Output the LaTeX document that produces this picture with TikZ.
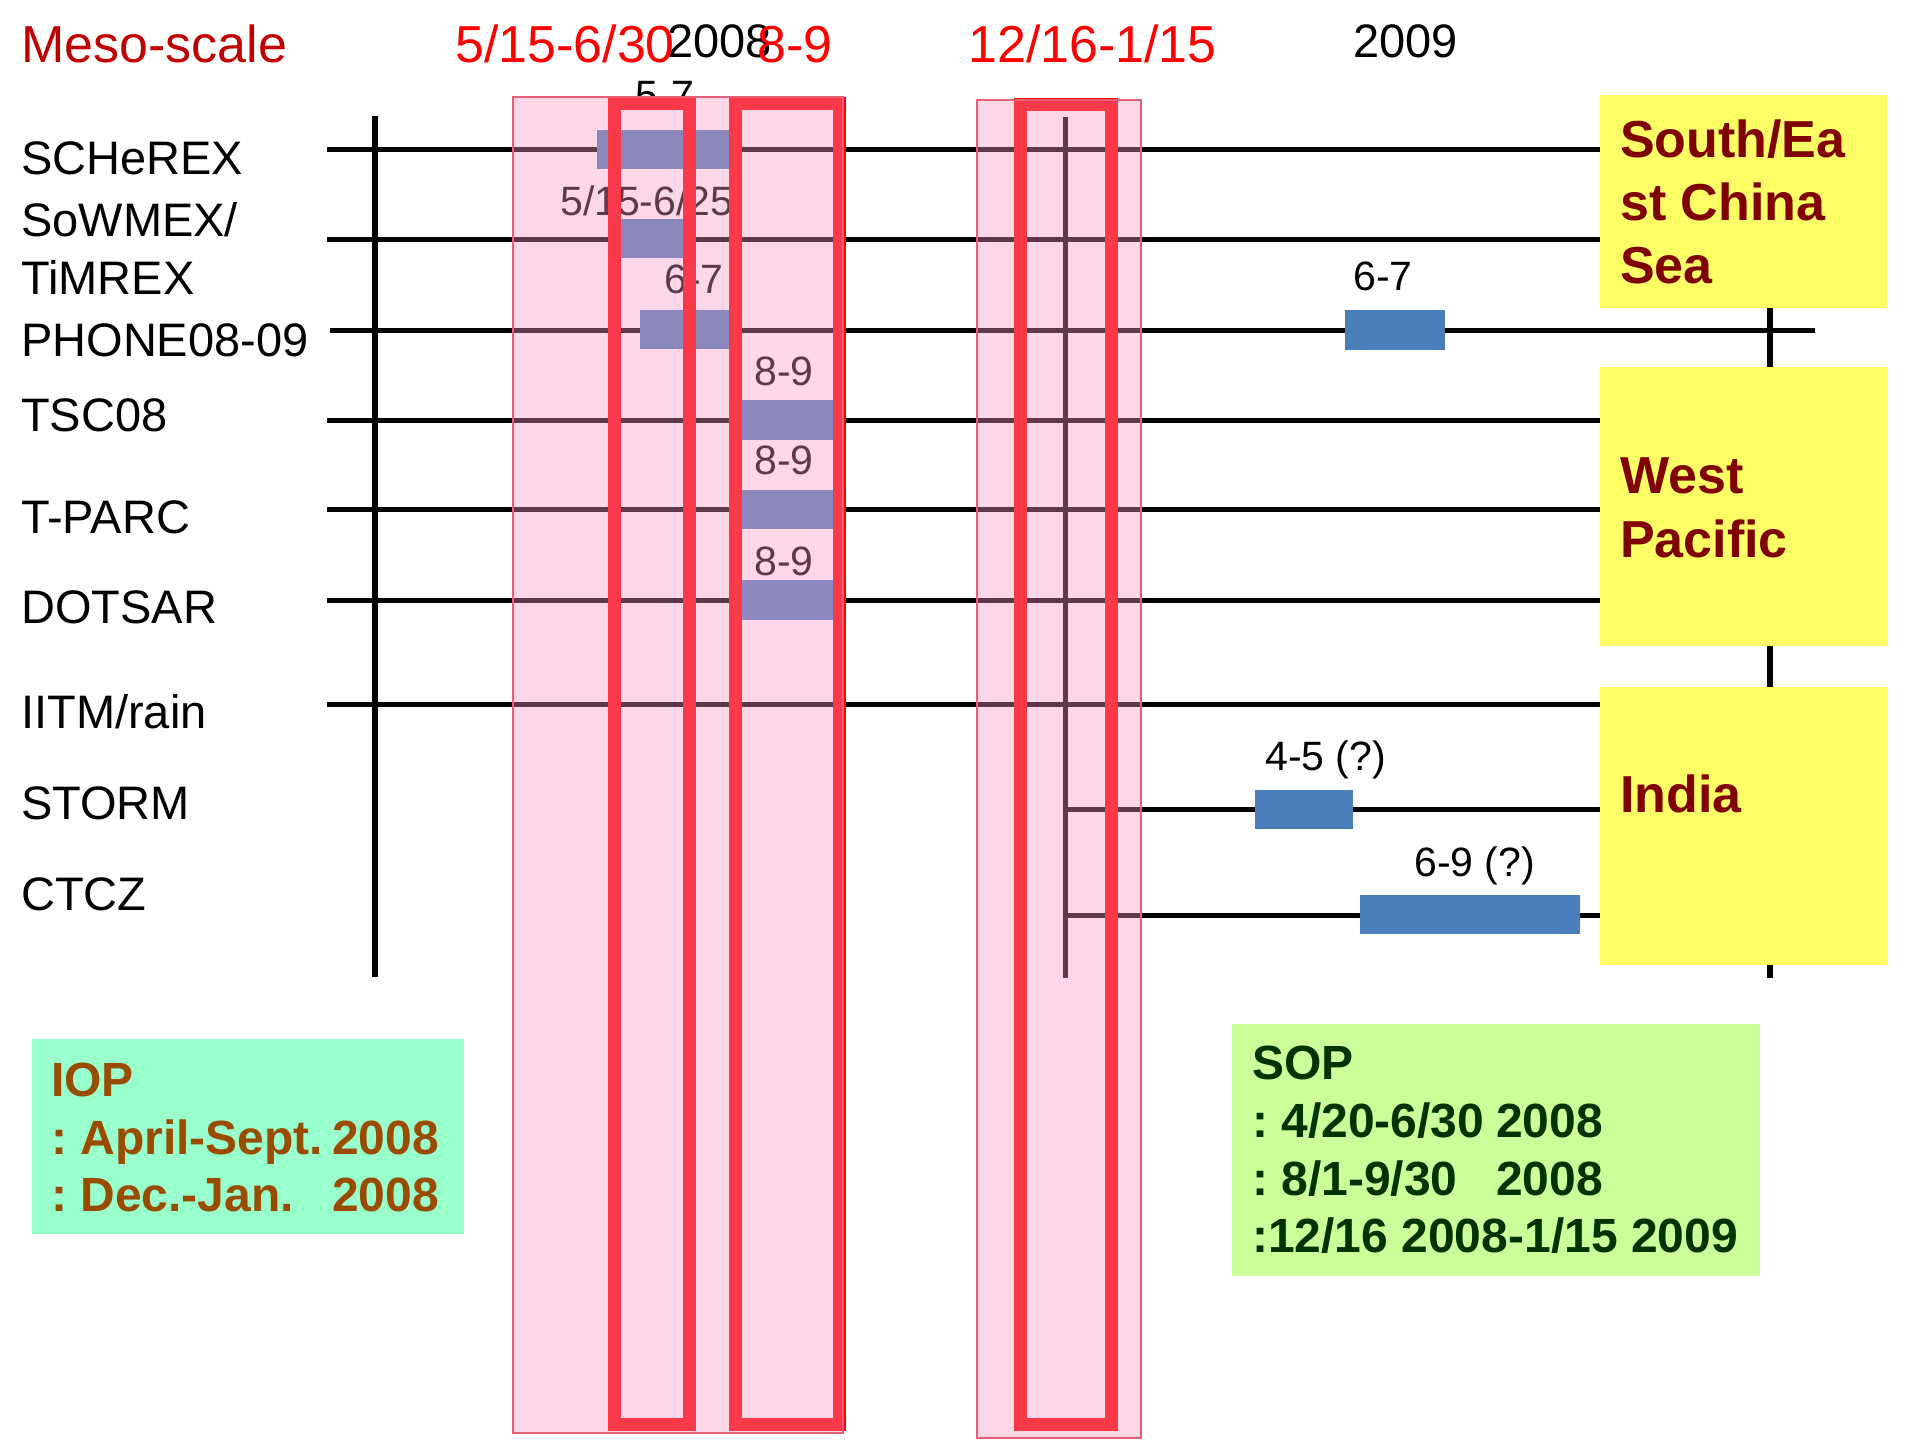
\documentclass[tikz,border=0pt]{standalone}
\usepackage{fontspec}
\setmainfont{Liberation Sans}
\frenchspacing
\definecolor{barblue}{RGB}{74,126,187}
\definecolor{pinkP}{RGB}{247,151,192}
\definecolor{pinkedge}{RGB}{228,96,118}
\definecolor{regyellow}{RGB}{255,255,102}
\definecolor{regred}{RGB}{128,0,0}
\definecolor{mesored}{RGB}{192,0,0}
\definecolor{iopbg}{RGB}{153,255,204}
\definecolor{ioptext}{RGB}{153,76,0}
\definecolor{sopbg}{RGB}{204,255,153}
\definecolor{soptext}{RGB}{0,51,0}
\begin{document}
\begin{tikzpicture}[x=1pt,y=-1pt,
  tl/.style={line width=5pt, black},
  vl/.style={line width=6pt, black},
  bar/.style={fill=barblue, draw=none},
  redframe/.style={draw=red, line width=13pt},
  pinkbox/.style={fill=pinkP, fill opacity=0.385, draw=pinkedge, line width=1.5pt},
  rowlabel/.style={anchor=base west, inner sep=0pt, font=\fontsize{47}{56}\selectfont},
  smalllab/.style={anchor=base west, inner sep=0pt, font=\fontsize{41}{49}\selectfont},
  headlab/.style={anchor=base west, inner sep=0pt, font=\fontsize{52}{62}\selectfont},
  yearlab/.style={anchor=base west, inner sep=0pt, font=\fontsize{47}{56}\selectfont},
  regbox/.style={fill=regyellow, draw=none},
  regtext/.style={anchor=base west, inner sep=0pt, text=regred, font=\fontsize{52}{63}\selectfont\bfseries},
  ioptxt/.style={anchor=base west, inner sep=0pt, text=ioptext, font=\fontsize{48}{58}\selectfont\bfseries},
  soptxt/.style={anchor=base west, inner sep=0pt, text=soptext, font=\fontsize{48}{58}\selectfont\bfseries}
]
\useasboundingbox (0,0) rectangle (1915,1440);

% timeline lines
\coordinate (l1a) at (327,149); \coordinate (l1b) at (1600,149);
\coordinate (l2a) at (327,239); \coordinate (l2b) at (1600,239);
\coordinate (l3a) at (330,330); \coordinate (l3b) at (1815,330);
\coordinate (l4a) at (327,420); \coordinate (l4b) at (1600,420);
\coordinate (l5a) at (327,509); \coordinate (l5b) at (1600,509);
\coordinate (l6a) at (327,600); \coordinate (l6b) at (1600,600);
\coordinate (l7a) at (327,704); \coordinate (l7b) at (1600,704);
\coordinate (l8a) at (1065,809); \coordinate (l8b) at (1600,809);
\coordinate (l9a) at (1065,915); \coordinate (l9b) at (1600,915);
\foreach \i in {1,...,9} {\draw[tl] (l\i a) -- (l\i b);}

\coordinate (vLt) at (375,116); \coordinate (vLb) at (375,977);
\coordinate (vRt) at (1770,116); \coordinate (vRb) at (1770,978);
\coordinate (vMt) at (1065,117); \coordinate (vMb) at (1065,978);
\draw[vl] (vLt) -- (vLb);
\draw[vl] (vRt) -- (vRb);
\draw[line width=5pt] (vMt) -- (vMb);

% header texts
\node[headlab, text=mesored] (meso) at (21,62) {Meso-scale};
\node[yearlab] (y2008) at (667,57) {2008};
\node[headlab, text=red] (h1) at (455,62) {5/15-6/30};
\node[headlab, text=red] (h2) at (757,62) {8-9};
\node[headlab, text=red] (h3) at (968,62) {12/16-1/15};
\node[yearlab] (y2009) at (1353,57) {2009};

% row labels
\node[rowlabel] (r1) at (21,174) {SCHeREX};
\node[rowlabel] (r2a) at (21,236) {SoWMEX/};
\node[rowlabel] (r2b) at (21,294) {TiMREX};
\node[rowlabel] (r3) at (21,356) {PHONE08-09};
\node[rowlabel] (r4) at (21,431) {TSC08};
\node[rowlabel] (r5) at (21,533) {T-PARC};
\node[rowlabel] (r6) at (21,623) {DOTSAR};
\node[rowlabel] (r7) at (21,728) {IITM/rain};
\node[rowlabel] (r8) at (21,819) {STORM};
\node[rowlabel] (r9) at (21,910) {CTCZ};

% small labels
\node[smalllab] (s1) at (635,109) {5-7};
\node[smalllab] (s2) at (560,215) {5/15-6/25};
\node[smalllab] (s3) at (664,293) {6-7};
\node[smalllab] (s4) at (754,385) {8-9};
\node[smalllab] (s5) at (754,474) {8-9};
\node[smalllab] (s6) at (754,575) {8-9};
\node[smalllab] (s7) at (1353,290) {6-7};
\node[smalllab] (s8) at (1265,770) {4-5 (?)};
\node[smalllab] (s9) at (1414,876) {6-9 (?)};

% bars
\fill[bar] (597,130) rectangle (735,169);
\fill[bar] (615,219) rectangle (690,258);
\fill[bar] (640,310) rectangle (735,349);
\fill[bar] (735,400) rectangle (840,440);
\fill[bar] (735,490) rectangle (840,529);
\fill[bar] (735,580) rectangle (840,620);
\fill[bar] (1345,310) rectangle (1445,350);
\fill[bar] (1255,790) rectangle (1353,829);
\fill[bar] (1360,895) rectangle (1580,934);

% red frames
\draw[redframe] (614.5,103.5) rectangle (689.5,1424.5);
\draw[redframe] (735.5,103.5) rectangle (839.5,1424.5);
\draw[redframe] (1020,104.5) rectangle (1111,1424.5);

% pink translucent periods
\draw[pinkbox] (513,97) rectangle (843,1433);
\draw[pinkbox] (977,100) rectangle (1141,1438);

% region boxes
\fill[regbox] (1600,95) rectangle (1887,308);
\fill[regbox] (1600,367) rectangle (1888,646);
\fill[regbox] (1600,687) rectangle (1888,965);
\node[regtext] (g1a) at (1620,157) {South/Ea};
\node[regtext] (g1b) at (1620,220) {st China};
\node[regtext] (g1c) at (1620,283) {Sea};
\node[regtext] (g2a) at (1620,493) {West};
\node[regtext] (g2b) at (1620,557) {Pacific};
\node[regtext] (g3) at (1620,812) {India};

% IOP box
\fill[iopbg] (32,1039) rectangle (464,1234);
\node[ioptxt] (i1) at (51,1096) {IOP};
\node[ioptxt] (i2) at (51,1154) {\makebox[281pt][l]{: April-Sept.}2008};
\node[ioptxt] (i3) at (51,1211) {\makebox[281pt][l]{: Dec.-Jan.}2008};

% SOP box
\fill[sopbg] (1232,1024) rectangle (1760,1276);
\node[soptxt] (o1) at (1252,1079) {SOP};
\node[soptxt] (o2) at (1252,1137) {\makebox[244pt][l]{: 4/20-6/30}2008};
\node[soptxt] (o3) at (1252,1195) {\makebox[244pt][l]{: 8/1-9/30}2008};
\node[soptxt] (o4) at (1252,1252) {:12/16 2008-1/15 2009};
\end{tikzpicture}
\end{document}
